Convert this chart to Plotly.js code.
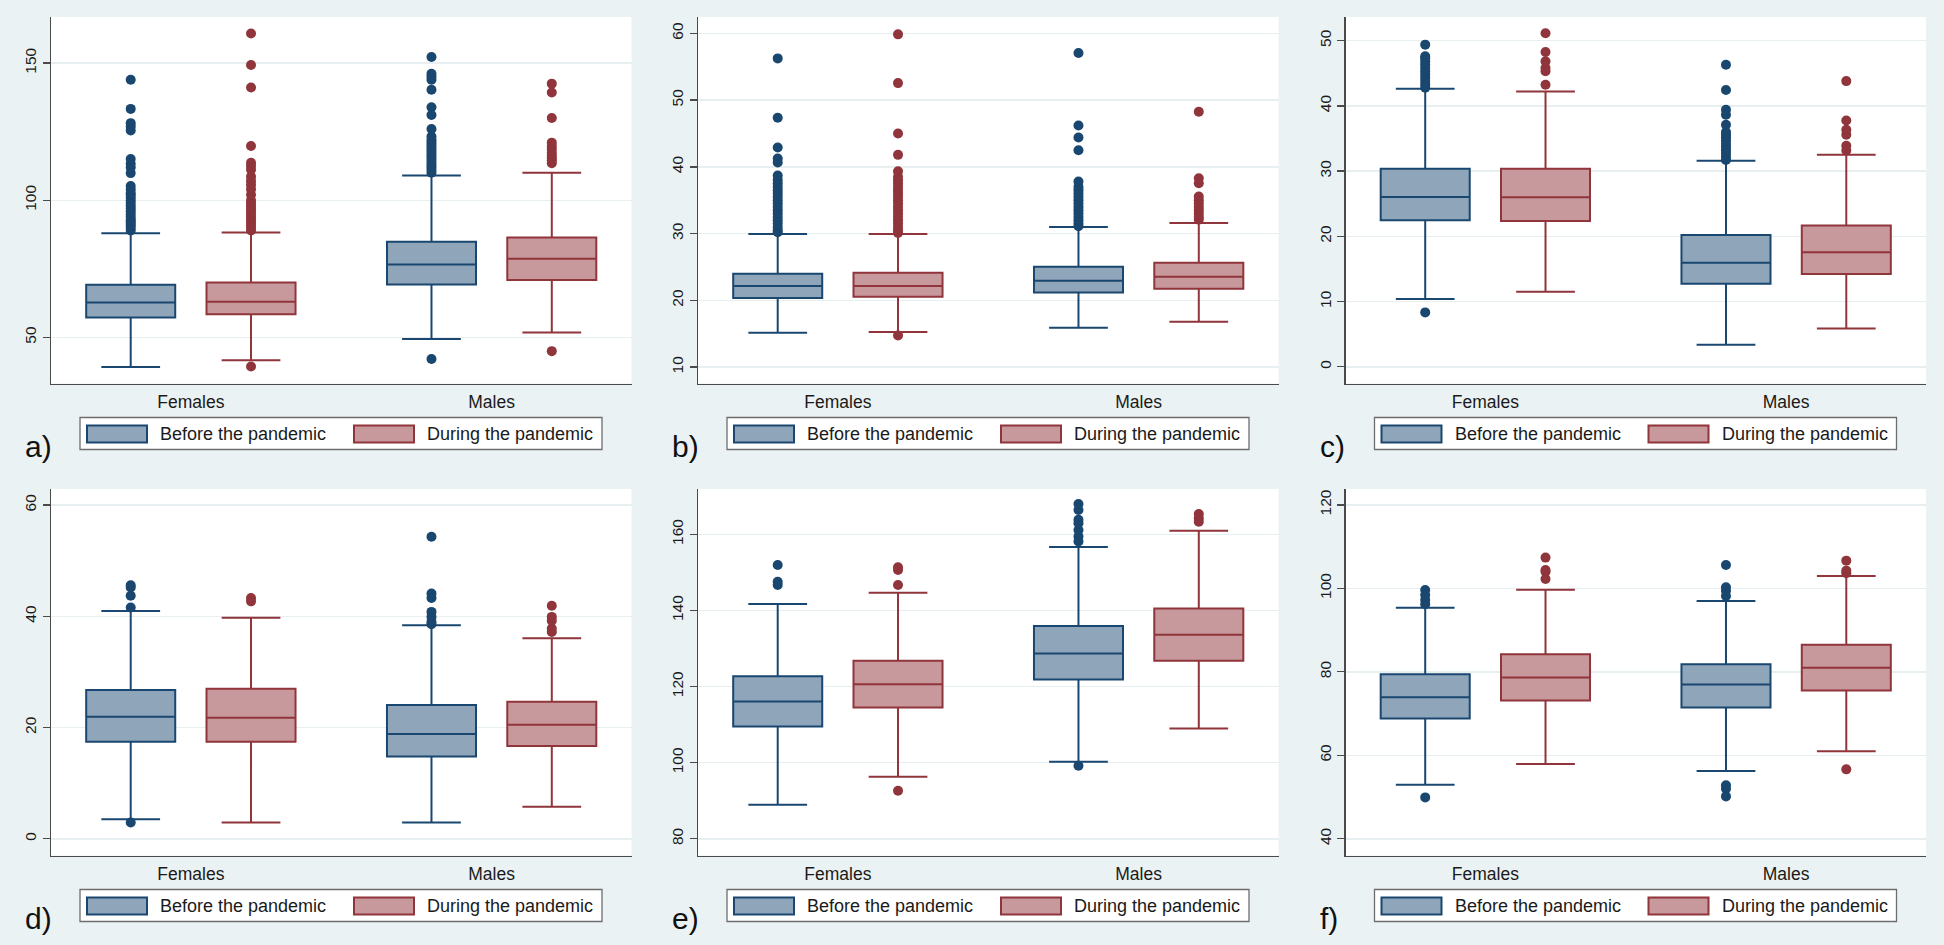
<!DOCTYPE html>
<html>
<head>
<meta charset="utf-8">
<script src="https://cdn.plot.ly/plotly-3.0.1.min.js"></script>
<style>
  html, body { margin: 0; padding: 0; background: #eaf2f3; }
  #chart { width: 1944px; height: 945px; }
</style>
</head>
<body>
<div id="chart"></div>
<script>
const groups = ['Females', 'Males'];
const groupPos = [1, 2];
const seriesNames = ['Before the pandemic', 'During the pandemic'];

// box stats per group: [lower whisker, Q1, median, Q3, upper whisker]
const aBefore = [[39.2, 57.3, 62.7, 69.2, 88.0], [49.4, 69.3, 76.6, 84.9, 109.0]];
const aDuring = [[41.7, 58.4, 63.0, 70.0, 88.2], [51.8, 70.9, 78.7, 86.4, 110.0]];
const aBeforeOut = [
  [89, 90, 90.8, 91.5, 92.3, 93, 94, 95, 96, 97, 98, 99, 100, 101, 102, 102.6, 103.9, 105.2, 109.9, 111.9, 113.3, 115, 125.4, 126.9, 128.1, 133.3, 143.9],
  [42.1, 110, 111, 112, 113, 114, 115, 116, 117, 118, 119, 120, 121, 122, 123.2, 126, 131.1, 133.9, 140.3, 143.9, 145, 146.1, 152.2]
];
const aDuringOut = [
  [39.4, 89, 90, 91, 92, 93, 94, 95, 96, 97, 98, 99, 100, 102, 104, 105.6, 107, 108.6, 111.1, 112.5, 113.7, 119.8, 141.1, 149.3, 160.8],
  [45.0, 113.5, 114.5, 115.3, 116.2, 117.2, 118.5, 119.6, 121, 130, 139.3, 142.5]
];

const bBefore = [[15.15, 20.35, 22.15, 24.0, 29.95], [15.9, 21.2, 22.95, 25.05, 31.0]];
const bDuring = [[15.25, 20.55, 22.15, 24.15, 29.95], [16.8, 21.75, 23.55, 25.65, 31.6]];
const bBeforeOut = [
  [30.2, 30.5, 31, 31.5, 32, 32.5, 33, 33.5, 34, 34.5, 35, 35.5, 36, 36.5, 37, 37.5, 38.05, 38.7, 40.65, 41.25, 42.9, 47.35, 56.25],
  [31.1, 31.5, 32, 32.5, 33, 33.5, 34, 34.5, 35, 35.5, 36, 36.5, 37, 37.8, 42.5, 44.4, 46.2, 57.05]
];
const bDuringOut = [
  [14.75, 30.1, 30.5, 31, 31.5, 32, 32.5, 33, 33.5, 34, 34.5, 35, 35.5, 36, 36.5, 37, 37.5, 38, 38.5, 39.35, 41.8, 45.0, 52.55, 59.85],
  [32.1, 32.5, 33, 33.5, 34, 34.5, 35, 35.55, 37.55, 38.3, 48.25]
];

const cBefore = [[10.39, 22.47, 26.05, 30.35, 42.63], [3.38, 12.74, 15.97, 20.21, 31.58]];
const cDuring = [[11.51, 22.36, 26.0, 30.35, 42.22], [5.89, 14.23, 17.55, 21.65, 32.5]];
const cBeforeOut = [
  [8.34, 42.8, 43.3, 43.8, 44.3, 44.8, 45.3, 45.8, 46.3, 46.8, 47.3, 47.6, 49.39],
  [31.7, 32.2, 32.7, 33.2, 33.7, 34.2, 34.7, 35.2, 35.6, 36.0, 37.1, 38.64, 39.4, 42.43, 46.32]
];
const cDuringOut = [
  [43.24, 45.3, 45.8, 46.83, 48.26, 51.13],
  [33.16, 33.88, 35.57, 36.34, 37.77, 43.8]
];

const dBefore = [[3.54, 17.46, 21.96, 26.75, 40.97], [2.94, 14.82, 18.84, 24.06, 38.4]];
const dDuring = [[2.94, 17.46, 21.78, 27.0, 39.77], [5.76, 16.68, 20.52, 24.66, 36.05]];
const dBeforeOut = [
  [2.94, 41.6, 43.7, 45.2, 45.6],
  [38.6, 39.0, 39.9, 40.8, 43.3, 44.1, 54.3]
];
const dDuringOut = [
  [42.7, 43.3],
  [37.2, 37.8, 39.2, 39.9, 41.9]
];

const eBefore = [[88.95, 109.47, 116.05, 122.72, 141.67], [100.26, 121.84, 128.68, 135.88, 156.67]];
const eDuring = [[96.32, 114.47, 120.61, 126.75, 144.65], [108.95, 126.75, 133.6, 140.53, 160.96]];
const eBeforeOut = [
  [146.67, 147.54, 151.93],
  [99.2, 158.1, 159.4, 161.1, 162.9, 163.8, 166.4, 167.98]
];
const eDuringOut = [
  [92.63, 146.67, 150.6, 151.32],
  [163.3, 164.2, 165.35]
];

const fBefore = [[52.96, 68.8, 73.92, 79.44, 95.36], [56.24, 71.44, 76.96, 81.84, 96.96]];
const fDuring = [[57.92, 73.12, 78.64, 84.24, 99.68], [60.96, 75.52, 80.96, 86.48, 102.96]];
const fBeforeOut = [
  [49.92, 96.2, 97.2, 98.4, 99.6],
  [50.16, 52.0, 52.8, 98.16, 99.44, 100.24, 105.6]
];
const fDuringOut = [
  [102.24, 104, 104.4, 107.36],
  [56.64, 103.6, 104.24, 106.64]
];

const panels = [
  { label: 'a)', before: aBefore, during: aDuring, beforeOut: aBeforeOut, duringOut: aDuringOut, range: [33.2, 166.8], tick0: 50, dtick: 50 },
  { label: 'b)', before: bBefore, during: bDuring, beforeOut: bBeforeOut, duringOut: bDuringOut, range: [7.55, 62.45], tick0: 10, dtick: 10 },
  { label: 'c)', before: cBefore, during: cDuring, beforeOut: cBeforeOut, duringOut: cDuringOut, range: [-2.56, 53.63], tick0: 0, dtick: 10 },
  { label: 'd)', before: dBefore, during: dDuring, beforeOut: dBeforeOut, duringOut: dDuringOut, range: [-3.0, 62.9], tick0: 0, dtick: 20 },
  { label: 'e)', before: eBefore, during: eDuring, beforeOut: eBeforeOut, duringOut: eDuringOut, range: [75.6, 171.9], tick0: 80, dtick: 20 },
  { label: 'f)', before: fBefore, during: fDuring, beforeOut: fBeforeOut, duringOut: fDuringOut, range: [36, 123.8], tick0: 40, dtick: 20 }
];

const W = 1944, H = 945;
const colLeft = [51, 698, 1345.5];
const plotW = 580.5;
const rowTop = [17, 489];
const plotH = 366.5;

const navy = '#1a476f', navyFill = '#8fa5ba';
const maroon = '#90353b', maroonFill = '#c8999c';
const axisColor = '#4a4a4a';
const font = 'Liberation Sans, Arial, sans-serif';

const px = x => x / W;
const py = y => 1 - y / H;

const traces = [];
const layout = {
  width: W, height: H,
  margin: { l: 0, r: 0, t: 0, b: 0 },
  paper_bgcolor: '#eaf2f3',
  plot_bgcolor: '#ffffff',
  showlegend: false,
  font: { family: font, color: '#1a1a1a' },
  shapes: [],
  annotations: []
};

function boxTrace(stats, shift, color, fill, n, name) {
  return {
    type: 'box', orientation: 'v', name: name,
    x: groupPos.map(p => p + shift),
    lowerfence: stats.map(s => s[0]),
    q1: stats.map(s => s[1]),
    median: stats.map(s => s[2]),
    q3: stats.map(s => s[3]),
    upperfence: stats.map(s => s[4]),
    width: 0.296, whiskerwidth: 0.66,
    fillcolor: fill,
    line: { color: color, width: 2 },
    boxpoints: false,
    xaxis: 'x' + n, yaxis: 'y' + n,
    hoverinfo: 'y'
  };
}

function outlierTrace(out, shift, color, n, name) {
  const xs = [], ys = [];
  out.forEach((vals, i) => vals.forEach(v => { xs.push(groupPos[i] + shift); ys.push(v); }));
  return {
    type: 'scatter', mode: 'markers', name: name,
    x: xs, y: ys,
    marker: { color: color, size: 10 },
    xaxis: 'x' + n, yaxis: 'y' + n,
    hoverinfo: 'y'
  };
}

panels.forEach((p, i) => {
  const n = i === 0 ? '' : String(i + 1);
  const left = colLeft[i % 3];
  const top = rowTop[Math.floor(i / 3)];
  const bottom = top + plotH;

  traces.push(boxTrace(p.before, -0.2, navy, navyFill, n, seriesNames[0]));
  traces.push(boxTrace(p.during, 0.2, maroon, maroonFill, n, seriesNames[1]));
  traces.push(outlierTrace(p.beforeOut, -0.2, navy, n, seriesNames[0]));
  traces.push(outlierTrace(p.duringOut, 0.2, maroon, n, seriesNames[1]));

  layout['xaxis' + n] = {
    domain: [px(left), px(left + plotW)],
    anchor: 'y' + n,
    range: [0.535, 2.465],
    tickvals: groupPos, ticktext: groups,
    ticks: 'outside', ticklen: 2, tickcolor: 'rgba(0,0,0,0)',
    showline: true, linecolor: axisColor, linewidth: 1.5,
    showgrid: false, zeroline: false,
    tickfont: { size: 17.5, family: font, color: '#1a1a1a' },
    fixedrange: true
  };
  layout['yaxis' + n] = {
    domain: [py(bottom), py(top)],
    anchor: 'x' + n,
    range: p.range,
    tick0: p.tick0, dtick: p.dtick,
    tickangle: -90,
    ticks: 'outside', ticklen: 7, tickwidth: 1.3, tickcolor: axisColor,
    showline: true, linecolor: axisColor, linewidth: 1.5,
    showgrid: true, gridcolor: '#e7eff1', gridwidth: 1.5,
    zeroline: false,
    tickfont: { size: 15.5, family: font, color: '#1a1a1a' },
    fixedrange: true
  };

  // legend box under each panel
  const lx = left + 29, ly = bottom + 34;
  layout.shapes.push({
    type: 'rect', xref: 'paper', yref: 'paper',
    x0: px(lx), x1: px(lx + 522), y0: py(ly + 32), y1: py(ly),
    fillcolor: '#ffffff', line: { color: '#6e6e6e', width: 1.3 }
  });
  [[7, navy, navyFill, 78], [274, maroon, maroonFill, 345]].forEach(([kx, c, f, tx], k) => {
    layout.shapes.push({
      type: 'rect', xref: 'paper', yref: 'paper',
      x0: px(lx + kx), x1: px(lx + kx + 60), y0: py(ly + 25), y1: py(ly + 8),
      fillcolor: f, line: { color: c, width: 2 }
    });
    layout.annotations.push({
      xref: 'paper', yref: 'paper', x: px(lx + tx), y: py(ly + 16.5),
      xanchor: 'left', yanchor: 'middle', showarrow: false,
      text: seriesNames[k], font: { size: 18, family: font, color: '#1a1a1a' }
    });
  });

  // panel letter
  layout.annotations.push({
    xref: 'paper', yref: 'paper', x: px(left - 28), y: py(bottom + 63),
    xanchor: 'left', yanchor: 'middle', showarrow: false,
    text: p.label, font: { size: 30, family: font, color: '#111111' }
  });
});

Plotly.newPlot('chart', traces, layout, { displayModeBar: false, staticPlot: true });
</script>
</body>
</html>
